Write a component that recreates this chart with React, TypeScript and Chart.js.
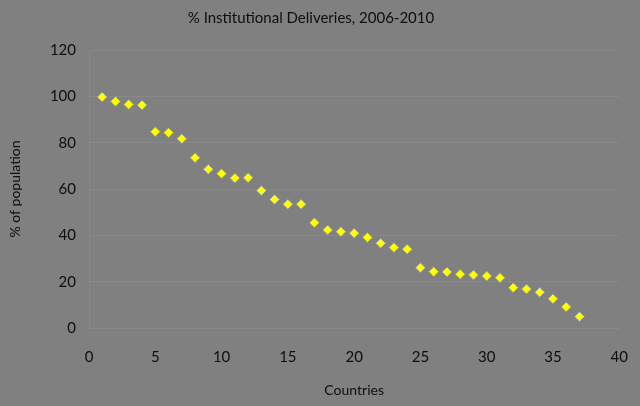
import { useEffect, useRef } from "react";
import { Chart, registerables } from "chart.js";

Chart.register(...registerables);

// country index on the x axis, % institutional deliveries on the y axis
const countries = [
  1, 2, 3, 4, 5, 6, 7, 8, 9, 10, 11, 12, 13, 14, 15, 16, 17, 18, 19, 20, 21,
  22, 23, 24, 25, 26, 27, 28, 29, 30, 31, 32, 33, 34, 35, 36, 37,
];
const deliveries = [
  99.7, 97.8, 96.5, 96.2, 84.7, 84.3, 81.7, 73.5, 68.5, 66.6, 64.7, 64.9, 59.3,
  55.5, 53.4, 53.4, 45.4, 42.3, 41.6, 40.9, 39.1, 36.6, 34.7, 34.0, 26.0, 24.3,
  24.2, 23.2, 22.9, 22.4, 21.7, 17.4, 16.8, 15.4, 12.6, 9.1, 4.9,
];
const xTicks = [0, 5, 10, 15, 20, 25, 30, 35, 40];
const yTicks = [0, 20, 40, 60, 80, 100, 120];

const BG = "#808080";
const GRID = "#888888";
const TEXT = "#0d0d0d";
const FONT = "Lato, 'Open Sans', sans-serif";

const background = {
  id: "background",
  beforeDraw(chart: Chart) {
    const { ctx, width, height } = chart;
    ctx.save();
    ctx.fillStyle = BG;
    ctx.fillRect(0, 0, width, height);
    ctx.restore();
  },
};

export default function App() {
  const canvasRef = useRef<HTMLCanvasElement>(null);

  useEffect(() => {
    if (!canvasRef.current) return;

    const chart = new Chart(canvasRef.current, {
      type: "scatter",
      data: {
        datasets: [
          {
            label: "% Institutional Deliveries",
            data: countries.map((c, i) => ({ x: c, y: deliveries[i] })),
            pointStyle: "rectRot",
            pointRadius: 5,
            backgroundColor: "#ffff00",
            borderColor: "#8a94a0",
            borderWidth: 1,
          },
        ],
      },
      options: {
        animation: false,
        responsive: true,
        maintainAspectRatio: false,
        layout: { padding: { left: 0, right: 18, top: 0, bottom: 0 } },
        scales: {
          x: {
            type: "linear",
            min: 0,
            max: 40,
            afterBuildTicks: (scale) => {
              scale.ticks = xTicks.map((v) => ({ value: v }));
            },
            afterFit: (scale) => {
              scale.height = 78;
            },
            grid: { display: false },
            border: { display: true, color: GRID },
            ticks: {
              padding: 12,
              color: TEXT,
              font: { family: FONT, size: 15 },
              maxRotation: 0,
            },
            title: {
              display: true,
              text: "Countries",
              color: TEXT,
              font: { family: FONT, size: 14 },
              padding: { top: 0, bottom: 7 },
            },
          },
          y: {
            min: 0,
            max: 120,
            afterBuildTicks: (scale) => {
              scale.ticks = yTicks.map((v) => ({ value: v }));
            },
            afterFit: (scale) => {
              scale.width = 89;
            },
            grid: { color: GRID, drawTicks: false },
            border: { display: true, color: GRID },
            ticks: {
              padding: 13,
              color: TEXT,
              font: { family: FONT, size: 15 },
            },
            title: {
              display: true,
              text: "% of population",
              color: TEXT,
              font: { family: FONT, size: 14 },
              padding: { top: 7, bottom: 0 },
            },
          },
        },
        plugins: {
          legend: { display: false },
          tooltip: { enabled: false },
          title: {
            display: true,
            text: "% Institutional Deliveries, 2006-2010",
            color: TEXT,
            font: { family: FONT, size: 15, weight: "normal" },
            padding: { top: 9, bottom: 23 },
          },
        },
      },
      plugins: [background],
    });

    return () => {
      chart.destroy();
    };
  }, []);

  return (
    <div
      style={{
        position: "fixed",
        left: 0,
        top: 0,
        width: 640,
        height: 406,
        background: BG,
      }}
    >
      <canvas ref={canvasRef} />
    </div>
  );
}
